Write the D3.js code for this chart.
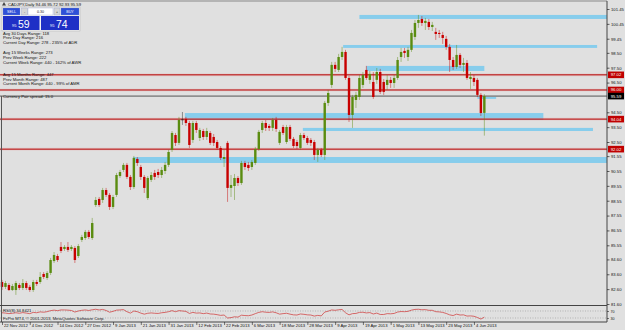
<!DOCTYPE html>
<html>
<head>
<meta charset="utf-8">
<script src="https://cdn.jsdelivr.net/npm/d3@7"></script>
<style>
  body { margin: 0; background: #e0e0e0; }
  svg { display: block; }
  text { font-family: "Liberation Sans", Arial, sans-serif; }
</style>
</head>
<body>
<svg id="chart" width="625" height="330"></svg>
<script>
// CADJPY daily candles (bar 0 = 22 Nov 2012)
const opens = [
  83.08, 82.75, 82.88, 82.54, 82.54, 82.88, 82.68, 83.01, 82.75, 82.54,
  83.08, 83.08, 83.62, 83.35, 83.69, 84.49, 84.83, 85.44, 85.30, 85.44,
  85.30, 85.37, 84.83, 85.91, 86.04, 86.45, 86.04, 88.26, 88.67, 88.60,
  89.27, 88.94, 88.13, 88.94, 90.21, 90.62, 90.96, 90.15, 89.47, 91.36,
  90.82, 90.15, 88.73, 89.95, 90.42, 90.48, 90.28, 90.55, 90.96, 91.97,
  92.97, 92.44, 94.02, 94.05, 93.78, 92.64, 93.78, 92.77, 93.24, 92.84,
  93.11, 92.84, 92.50, 92.10, 91.36, 92.44, 89.41, 89.54, 90.08, 89.74,
  91.09, 90.96, 90.82, 91.09, 92.03, 93.31, 93.78, 93.58, 93.45, 93.98,
  92.44, 93.51, 92.50, 93.51, 92.71, 92.50, 92.10, 92.97, 92.77, 92.64,
  92.50, 91.63, 91.97, 91.63, 95.13, 96.34, 97.69, 97.35, 98.22, 98.56,
  96.81, 94.32, 95.33, 95.53, 96.34, 97.35, 96.68, 96.54, 96.68, 97.21,
  96.54, 96.34, 96.68, 96.47, 96.81, 98.22, 98.63, 98.22, 98.70, 99.57,
  100.51, 100.78, 100.51, 100.58, 100.24, 99.91, 99.84, 99.70, 99.44, 98.90,
  98.02, 97.55, 98.36, 97.69, 97.82, 96.74, 96.81, 96.68, 95.67, 94.46
];
const highs = [
  83.22, 83.15, 83.01, 82.95, 83.15, 83.01, 83.28, 83.15, 82.88, 83.22,
  83.22, 83.75, 83.75, 83.82, 84.70, 85.10, 84.97, 85.77, 85.57, 85.77,
  85.57, 85.50, 85.64, 86.25, 86.58, 86.58, 87.39, 88.80, 88.80, 89.41,
  89.41, 89.07, 88.94, 90.42, 90.62, 91.09, 91.09, 90.28, 91.56, 91.49,
  90.96, 90.28, 90.21, 90.48, 90.62, 90.69, 90.82, 91.16, 91.97, 93.24,
  93.11, 94.19, 94.52, 94.19, 93.92, 93.92, 93.92, 93.45, 93.38, 93.45,
  93.24, 93.04, 92.64, 92.23, 91.97, 92.57, 90.28, 90.35, 90.21, 91.23,
  91.23, 91.16, 91.29, 92.17, 93.31, 93.92, 93.98, 93.71, 94.12, 94.19,
  93.31, 93.65, 93.65, 93.65, 92.84, 92.64, 93.11, 93.11, 92.91, 92.77,
  92.64, 92.10, 92.10, 95.26, 96.00, 97.89, 97.89, 98.43, 98.90, 98.70,
  96.95, 95.67, 95.87, 97.01, 97.21, 97.62, 97.28, 97.21, 97.48, 97.42,
  96.74, 97.01, 96.88, 97.01, 98.22, 98.83, 98.83, 98.90, 100.04, 100.71,
  101.05, 100.98, 100.85, 100.78, 100.58, 100.18, 100.04, 99.91, 99.64, 99.10,
  98.22, 99.03, 98.49, 98.16, 98.02, 97.21, 97.01, 96.81, 95.80, 95.72
];
const lows = [
  82.54, 82.61, 82.48, 82.48, 82.21, 82.54, 82.54, 82.54, 82.41, 82.41,
  82.81, 82.95, 83.28, 83.22, 83.55, 84.36, 84.43, 85.03, 85.17, 85.10,
  85.17, 84.36, 84.70, 85.77, 85.91, 85.97, 85.91, 88.13, 88.13, 88.40,
  88.80, 87.93, 87.99, 88.80, 90.08, 90.48, 90.01, 89.27, 89.34, 90.89,
  89.95, 89.07, 88.60, 89.81, 89.95, 90.08, 90.08, 90.35, 90.82, 91.83,
  92.23, 92.30, 93.65, 93.58, 92.10, 92.44, 93.11, 92.57, 92.64, 92.64,
  92.30, 92.23, 91.97, 91.29, 90.82, 88.47, 88.80, 88.60, 89.54, 89.61,
  90.62, 90.55, 90.62, 90.96, 91.90, 93.11, 93.24, 93.24, 93.24, 93.18,
  92.30, 92.97, 92.37, 92.57, 92.10, 92.03, 91.97, 92.64, 92.30, 92.23,
  91.29, 91.16, 91.49, 91.29, 94.93, 96.14, 97.21, 97.21, 98.02, 96.68,
  93.85, 93.45, 94.79, 95.33, 96.14, 96.68, 96.41, 95.40, 96.41, 95.73,
  95.67, 96.00, 96.14, 96.14, 96.68, 97.89, 98.16, 97.95, 98.56, 99.37,
  100.18, 100.31, 100.04, 100.04, 99.97, 99.37, 99.50, 99.10, 98.70, 97.21,
  97.35, 97.42, 97.48, 97.21, 96.68, 96.07, 96.27, 95.53, 94.25, 92.93
];
const closes = [
  82.75, 83.01, 82.54, 82.81, 83.01, 82.68, 83.01, 82.68, 82.54, 83.08,
  82.95, 83.42, 83.42, 83.69, 84.56, 84.90, 84.56, 85.17, 85.44, 85.24,
  85.44, 84.56, 85.50, 86.11, 86.45, 86.11, 87.05, 88.60, 88.26, 89.27,
  88.94, 88.13, 88.80, 90.28, 90.48, 90.96, 90.15, 89.47, 91.43, 91.09,
  90.15, 89.41, 90.08, 90.28, 90.15, 90.28, 90.62, 90.96, 91.83, 93.11,
  92.44, 93.98, 94.02, 93.78, 92.30, 93.78, 93.31, 93.31, 92.84, 93.24,
  92.44, 92.44, 92.10, 91.43, 91.49, 89.41, 89.61, 90.08, 89.74, 91.09,
  90.82, 90.75, 91.16, 92.03, 93.18, 93.78, 93.45, 93.45, 93.98, 93.38,
  93.18, 93.11, 93.51, 92.71, 92.23, 92.23, 92.97, 92.77, 92.44, 92.44,
  91.63, 91.97, 91.63, 95.13, 95.80, 97.69, 97.42, 98.22, 98.56, 96.81,
  94.32, 95.53, 95.67, 96.81, 97.01, 96.81, 97.08, 95.53, 97.21, 95.87,
  95.87, 96.68, 96.47, 96.81, 98.02, 98.56, 98.49, 98.70, 99.84, 100.51,
  100.71, 100.51, 100.65, 100.24, 100.38, 99.77, 99.77, 99.50, 98.90, 98.02,
  97.55, 98.36, 97.69, 97.82, 96.81, 96.88, 96.54, 95.67, 94.45, 95.59
];

// RSI(8) sub-window
const rsi = [
  60, 58, 55, 57, 60, 57, 61, 58, 55, 62,
  60, 65, 63, 66, 72, 75, 72, 76, 76, 75,
  73, 64, 70, 74, 76, 73, 77, 80, 76, 79,
  73, 63, 68, 75, 76, 78, 66, 58, 70, 66,
  58, 52, 57, 59, 57, 56, 60, 62, 66, 72,
  66, 72, 70, 68, 56, 62, 58, 59, 55, 58,
  53, 52, 49, 45, 47, 30, 32, 37, 35, 46,
  44, 43, 47, 55, 62, 66, 63, 62, 65, 60,
  52, 55, 57, 52, 48, 47, 53, 51, 48, 47,
  41, 45, 42, 64, 69, 76, 74, 77, 79, 60,
  48, 55, 56, 62, 63, 59, 61, 53, 58, 50,
  50, 55, 54, 56, 64, 67, 66, 68, 75, 79,
  80, 77, 78, 74, 74, 66, 65, 62, 56, 48,
  44, 52, 47, 48, 41, 42, 40, 33, 24, 34.84
];

// horizontal support / resistance lines (red) and the bid line
const levels = [97.02, 96.00, 94.04, 92.02];
const bid = 95.59;

// blue zones: start bar, end bar, top price, bottom price
const zoneStart = [103, 98.3, 105, 137, 52.7, 86.7, 37.8];
const zoneEnd = [175, 171.5, 139, 142.4, 156, 170.3, 175];
const zoneTop = [101.05, 99.03, 97.62, 95.53, 94.45, 93.45, 91.49];
const zoneBottom = [100.78, 98.83, 97.28, 95.40, 93.98, 93.24, 91.09];

// 95.50 sits under the bid tag in the reference, so it is left out
const priceTicks = [101.45, 100.45, 99.45, 98.50, 97.50, 96.50, 94.50, 93.50, 92.50,
  91.55, 90.55, 89.55, 88.55, 87.55, 86.55, 85.55, 84.60, 83.60, 82.60, 81.60];

const dateBars = [0, 8, 16, 24, 32, 40, 48, 56, 64, 72, 80, 88, 96, 104, 112, 120, 128, 136];
const dateLabels = ['22 Nov 2012', '4 Dec 2012', '14 Dec 2012', '27 Dec 2012', '9 Jan 2013',
  '21 Jan 2013', '31 Jan 2013', '12 Feb 2013', '22 Feb 2013', '6 Mar 2013', '18 Mar 2013',
  '28 Mar 2013', '9 Apr 2013', '19 Apr 2013', '1 May 2013', '13 May 2013', '23 May 2013', '4 Jun 2013'];

const infoGroups = [
  ['Avg 30 Days Range: 118', 'Prev Day Range: 216', 'Current Day Range: 278 - 235% of ADR'],
  ['Avg 15 Weeks Range: 273', 'Prev Week Range: 222', 'Current Week Range: 440 - 162% of AWR'],
  ['Avg 15 Months Range: 447', 'Prev Month Range: 487', 'Current Month Range: 440 - 99% of AMR']
];

// --- layout
const chartRight = 607;
const mainTop = 1, mainBottom = 305.5;
const subTop = 306, subBottom = 322;
const bull = '#5a8c10', bear = '#c80000';
const fs = 4.2;

const svg = d3.select('#chart');
svg.append('rect').attr('width', 625).attr('height', 330).attr('fill', '#e0e0e0');

const x = d3.scaleLinear().domain([0, 174]).range([2, 605.8]);
const y = d3.scaleLinear().domain([81.60, 101.45]).range([304, 9]);
const yRsi = d3.scaleLinear().domain([30, 70]).range([318, 311]);

svg.append('clipPath').attr('id', 'mainClip')
  .append('rect').attr('x', 0).attr('y', mainTop).attr('width', chartRight).attr('height', mainBottom - mainTop);
svg.append('clipPath').attr('id', 'subClip')
  .append('rect').attr('x', 0).attr('y', subTop).attr('width', chartRight).attr('height', subBottom - subTop);

const main = svg.append('g').attr('clip-path', 'url(#mainClip)');

// blue zones
main.append('g').selectAll('rect').data(zoneStart).join('rect')
  .attr('x', (d) => x(d))
  .attr('y', (d, i) => y(zoneTop[i]))
  .attr('width', (d, i) => x(zoneEnd[i]) - x(d))
  .attr('height', (d, i) => y(zoneBottom[i]) - y(zoneTop[i]))
  .attr('fill', '#87cdec');

// red levels
const lv = main.append('g');
lv.selectAll('line.halo').data(levels).join('line').attr('class', 'halo')
  .attr('x1', 0).attr('x2', chartRight)
  .attr('y1', (d) => y(d)).attr('y2', (d) => y(d))
  .attr('stroke', '#e8b0b0').attr('stroke-width', 2.6).attr('opacity', 0.45);
lv.selectAll('line.lvl').data(levels).join('line').attr('class', 'lvl')
  .attr('x1', 0).attr('x2', chartRight)
  .attr('y1', (d) => y(d)).attr('y2', (d) => y(d))
  .attr('stroke', '#b40000').attr('stroke-width', 1);

// bid line
main.append('line').attr('x1', 0).attr('x2', chartRight)
  .attr('y1', y(bid)).attr('y2', y(bid)).attr('stroke', '#555').attr('stroke-width', 1);

// candles
const candleColor = (i) => closes[i] > opens[i] ? bull : (closes[i] < opens[i] ? bear : '#222');
const bars = d3.range(opens.length);
const cg = main.append('g');
cg.selectAll('line').data(bars).join('line')
  .attr('x1', (i) => x(i)).attr('x2', (i) => x(i))
  .attr('y1', (i) => y(highs[i])).attr('y2', (i) => y(lows[i]))
  .attr('stroke', candleColor).attr('stroke-width', 0.9).attr('opacity', 0.5);
cg.selectAll('rect').data(bars).join('rect')
  .attr('x', (i) => x(i) - 1.2)
  .attr('width', 2.4)
  .attr('y', (i) => y(Math.max(opens[i], closes[i])))
  .attr('height', (i) => Math.max(0.8, Math.abs(y(opens[i]) - y(closes[i]))))
  .attr('fill', candleColor);

// frame
svg.append('line').attr('x1', 0).attr('x2', chartRight).attr('y1', mainTop).attr('y2', mainTop)
  .attr('stroke', '#888').attr('stroke-width', 1);
svg.append('line').attr('x1', 1.5).attr('x2', 1.5).attr('y1', y(bid)).attr('y2', subBottom)
  .attr('stroke', '#555').attr('stroke-width', 1);
svg.append('line').attr('x1', chartRight).attr('x2', chartRight).attr('y1', mainTop).attr('y2', subBottom)
  .attr('stroke', '#444').attr('stroke-width', 1);
svg.append('line').attr('x1', 0).attr('x2', chartRight).attr('y1', mainBottom).attr('y2', mainBottom)
  .attr('stroke', '#444').attr('stroke-width', 1);
svg.append('line').attr('x1', 0).attr('x2', chartRight).attr('y1', subBottom).attr('y2', subBottom)
  .attr('stroke', '#444').attr('stroke-width', 1);

// price axis
const yAxis = svg.append('g').attr('transform', `translate(${chartRight},0)`)
  .call(d3.axisRight(y).tickValues(priceTicks).tickFormat(d3.format('.2f')).tickSize(2.5).tickPadding(1.5));
yAxis.select('.domain').remove();
yAxis.selectAll('line').attr('stroke', '#222').attr('stroke-width', 0.7);
yAxis.selectAll('text').attr('font-size', fs).attr('fill', '#111').attr('font-family', '"Liberation Sans", Arial, sans-serif');

// level tags on the price axis
const tag = (price, fill) => {
  const g = svg.append('g').attr('transform', `translate(${chartRight + 1},${y(price)})`);
  g.append('rect').attr('x', 0).attr('y', -3.3).attr('width', 16).attr('height', 6.6).attr('fill', fill);
  g.append('text').attr('x', 8).attr('y', 1.5).attr('text-anchor', 'middle')
    .attr('font-size', fs).attr('fill', '#fff').text(price.toFixed(2));
};
levels.forEach((p) => tag(p, '#c00000'));
tag(bid, '#000');

// RSI sub-window
svg.append('g').selectAll('line').data([70, 30]).join('line')
  .attr('x1', 0).attr('x2', chartRight)
  .attr('y1', (d) => yRsi(d)).attr('y2', (d) => yRsi(d))
  .attr('stroke', '#999').attr('stroke-width', 0.6).attr('stroke-dasharray', '1,1.5');
svg.append('path').datum(rsi).attr('clip-path', 'url(#subClip)')
  .attr('d', d3.line().x((d, i) => x(i)).y((d) => yRsi(d)))
  .attr('fill', 'none').attr('stroke', '#d04848').attr('stroke-width', 0.8);
const rAxis = svg.append('g').attr('transform', `translate(${chartRight},0)`)
  .call(d3.axisRight(yRsi).tickValues([70, 30]).tickSize(2).tickPadding(1.5));
rAxis.select('.domain').remove();
rAxis.selectAll('line').attr('stroke', '#222').attr('stroke-width', 0.6);
rAxis.selectAll('text').attr('font-size', 3.6).attr('fill', '#111');

svg.append('text').attr('x', 3).attr('y', 312.3).attr('font-size', fs).attr('fill', '#222')
  .text('RSI(8) 34.8421');
svg.append('text').attr('x', 3).attr('y', 319.8).attr('font-size', fs).attr('fill', '#222')
  .text('FxPro MT4, \u00a9 2001-2013, MetaQuotes Software Corp.');

// date axis
const xAxis = svg.append('g').attr('transform', `translate(0,${subBottom})`)
  .call(d3.axisBottom(x).tickValues(dateBars).tickFormat((d, i) => dateLabels[i]).tickSize(3).tickPadding(0));
xAxis.select('.domain').remove();
xAxis.selectAll('line').attr('stroke', '#222').attr('stroke-width', 0.6);
xAxis.selectAll('text').attr('font-size', fs).attr('fill', '#111')
  .attr('text-anchor', 'start').attr('dx', 1.5).attr('dy', 0);
xAxis.selectAll('text').attr('y', 5.2);

// title and trade panel
svg.append('path').attr('d', 'M2,5.5 L4,2 L6,5.5 Z').attr('fill', '#444');
svg.append('text').attr('x', 8).attr('y', 5.5).attr('font-size', fs).attr('fill', '#111')
  .text('CADJPY,Daily  94.46 95.72 92.93 95.59');

const panel = svg.append('g');
panel.append('rect').attr('x', 2).attr('y', 7).attr('width', 78).attr('height', 24)
  .attr('fill', '#f2f2f2').attr('stroke', '#b0b0b0').attr('stroke-width', 0.5);
const btn = (bx, w, label, fill, color) => {
  panel.append('rect').attr('x', bx).attr('y', 8).attr('width', w).attr('height', 7).attr('fill', fill)
    .attr('stroke', '#8090c0').attr('stroke-width', 0.3);
  panel.append('text').attr('x', bx + w / 2).attr('y', 13).attr('text-anchor', 'middle')
    .attr('font-size', 3.6).attr('fill', color).text(label);
};
btn(3, 17, 'SELL', '#2f50d8', '#fff');
btn(21.5, 6, '-', '#d6d6d6', '#222');
btn(28, 25, '0.30', '#ffffff', '#222');
btn(54, 6, '+', '#d6d6d6', '#222');
btn(61, 18, 'BUY', '#2f50d8', '#fff');
const quote = (bx, w, big) => {
  panel.append('rect').attr('x', bx).attr('y', 16).attr('width', w).attr('height', 14).attr('fill', '#1f30c6');
  panel.append('text').attr('x', bx + 9).attr('y', 27).attr('font-size', 4).attr('fill', '#fff').text('95');
  panel.append('text').attr('x', bx + 15).attr('y', 27.8).attr('font-size', 10.5).attr('fill', '#fff').text(big);
};
quote(3, 36.5, '59');
quote(41, 38, '74');

// info text
const groupBase = [34.5, 54, 75.7];
infoGroups.forEach((lines, g) => {
  svg.append('g').selectAll('text').data(lines).join('text')
    .attr('x', 3).attr('y', (d, i) => groupBase[g] + i * 4.8)
    .attr('font-size', fs).attr('fill', '#111').text((d) => d);
});
svg.append('text').attr('x', 3).attr('y', 97.6).attr('font-size', fs).attr('fill', '#111')
  .text('Currency Pair spread: 15.0');
</script>
</body>
</html>
